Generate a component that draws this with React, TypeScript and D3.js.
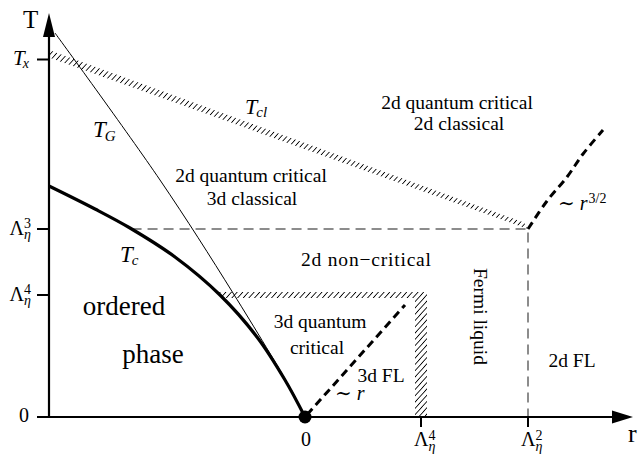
import * as d3 from 'd3';

// chart units (1 unit ~ 100 px)
const rMin = -2.56;
const rMax = 3.2;
const tMax = 4.02;

// axis ticks
const rTickValues = [0, 1.16, 2.23];
const rTickBase = ['0', 'Λ', 'Λ'];
const rTickSup = ['', '4', '2'];
const rTickSub = ['', 'η', 'η'];

const tTickValues = [0, 1.22, 1.88, 3.575];
const tTickBase = ['0', 'Λ', 'Λ', 'T'];
const tTickSup = ['', '4', '3', ''];
const tTickSub = ['', 'η', 'η', 'x'];

const lam4R = rTickValues[1];
const lam2R = rTickValues[2];
const lam4T = tTickValues[1];
const lam3T = tTickValues[2];
const tX = tTickValues[3];

// T_c : ordered phase boundary
const tcCurve: [number, number][] = [
  [-2.56, 2.31], [-2.1, 2.08], [-1.75, 1.89], [-1.3, 1.6], [-0.85, 1.22],
  [-0.48, 0.8], [-0.2, 0.37], [0, 0],
];
// T_G : Ginzburg line
const tgCurve: [number, number][] = [
  [-2.5, 3.84], [-1.45, 2.37], [-0.72, 1.24], [-0.12, 0.24], [0, 0],
];
// ~ r^{3/2}
const r32Curve: [number, number][] = [
  [2.23, 1.88], [2.42, 2.16], [2.62, 2.4], [2.78, 2.63], [2.98, 2.87],
];
// ~ r
const rLinear: [number, number][] = [[0, 0], [1.0, 1.12]];

const serif = "'Liberation Serif', 'DejaVu Serif', serif";

function rAt(curve: [number, number][], t: number) {
  for (let i = 0; i < curve.length - 1; i++) {
    const [r0, t0] = curve[i];
    const [r1, t1] = curve[i + 1];
    if (t0 >= t && t1 <= t) return r0 + ((t0 - t) / (t0 - t1)) * (r1 - r0);
  }
  return curve[0][0];
}

export default function App() {
  const x = d3.scaleLinear().domain([rMin, rMax]).range([49, 625]);
  const y = d3.scaleLinear().domain([0, tMax]).range([417, 15]);
  const straight = d3.line<[number, number]>().x(d => x(d[0])).y(d => y(d[1]));
  const smooth = d3.line<[number, number]>().x(d => x(d[0])).y(d => y(d[1])).curve(d3.curveCatmullRom);
  const poly = (pts: [number, number][]) => straight(pts) + 'Z';

  const x0 = x(0), y0 = y(0);

  // hatched Tcl band
  const bw = 0.075;
  const tclBand: [number, number][] = [
    [rMin, tX + 0.02], [lam2R, lam3T], [lam2R - 0.04, lam3T + bw - 0.01], [rMin, tX + 0.02 + bw],
  ];
  // hatched 3d quantum critical box
  const hb = 0.03, vb = 0.06;
  const boxBand: [number, number][] = [
    [rAt(tcCurve, lam4T + hb), lam4T + hb], [lam4R + vb, lam4T + hb], [lam4R + vb, 0],
    [lam4R - vb, 0], [lam4R - vb, lam4T - hb], [rAt(tcCurve, lam4T - hb), lam4T - hb],
  ];

  const dashStart = rAt(tcCurve, lam3T);

  return (
    <div style={{ position: 'absolute', left: 0, top: 0 }}>
      <svg width={644} height={454} style={{ display: 'block', background: '#fff' }} fontFamily={serif}>
        <defs>
          <pattern id="hatch" patternUnits="userSpaceOnUse" width={4.2} height={4.2} patternTransform="rotate(42)">
            <line x1={2.1} y1={-1} x2={2.1} y2={5.2} stroke="#000" strokeWidth={0.85} />
          </pattern>
        </defs>

        {/* hatched bands */}
        <path d={poly(tclBand)} fill="url(#hatch)" />
        <path d={poly(boxBand)} fill="url(#hatch)" />

        {/* gray dashed crossover lines */}
        <path d={straight([[dashStart, lam3T], [lam2R, lam3T], [lam2R, 0]])!} fill="none"
          stroke="#8c8c8c" strokeWidth={2} strokeDasharray="10 6" />

        {/* curves */}
        <path d={smooth(tgCurve)!} fill="none" stroke="#000" strokeWidth={1} />
        <path d={smooth(tcCurve)!} fill="none" stroke="#000" strokeWidth={3.2} />
        <path d={straight(rLinear)!} fill="none" stroke="#000" strokeWidth={3} strokeDasharray="8 5" strokeDashoffset={-3} />
        <path d={smooth(r32Curve)!} fill="none" stroke="#000" strokeWidth={3} strokeDasharray="8 5" />

        {/* axes */}
        <line x1={x(rMin)} y1={y0} x2={x(rMin)} y2={34} stroke="#000" strokeWidth={2.2} />
        <path d={`M${x(rMin)},13 L${x(rMin) - 6},37 L${x(rMin) + 6},37 Z`} fill="#000" />
        <line x1={38} y1={y0} x2={615} y2={y0} stroke="#000" strokeWidth={2.2} />
        <path d={`M633,${y0} L612,${y0 - 6.5} L612,${y0 + 6.5} Z`} fill="#000" />
        <text x={23} y={28} fontSize={25}>T</text>
        <text x={628} y={442} fontSize={26}>r</text>

        {/* T ticks */}
        {tTickValues.map((v, i) => {
          const ty = y(v);
          const isL = tTickBase[i] === 'Λ';
          const isT = tTickBase[i] === 'T';
          const x1 = isL ? 9.5 : isT ? 13 : 19;
          return (
            <g key={'t' + i}>
              <line x1={37} x2={x(rMin)} y1={ty} y2={ty} stroke="#000" strokeWidth={2} />
              <text x={x1} y={ty + (isL ? 5.5 : isT ? 5.5 : 4.5)} fontSize={isT ? 21 : 20}>
                <tspan fontStyle={isT ? 'italic' : 'normal'}>{tTickBase[i]}</tspan>
                {tTickSup[i] && <tspan fontSize={14} dy={-6.5}>{tTickSup[i]}</tspan>}
                {tTickSub[i] && (
                  <tspan fontSize={14} fontStyle="italic" dx={tTickSup[i] ? -7 : -2} dy={tTickSup[i] ? 11 : 3}>
                    {tTickSub[i]}
                  </tspan>
                )}
              </text>
            </g>
          );
        })}

        {/* r ticks */}
        {rTickValues.map((v, i) => {
          const tx = x(v);
          const isL = rTickBase[i] === 'Λ';
          return (
            <g key={'r' + i}>
              {v !== 0 && <line x1={tx} x2={tx} y1={y0} y2={y0 + 10} stroke="#000" strokeWidth={2} />}
              {isL ? (
                <text x={tx - 7} y={446} fontSize={20}>
                  {rTickBase[i]}
                  <tspan fontSize={14} dy={-6.5}>{rTickSup[i]}</tspan>
                  <tspan fontSize={14} fontStyle="italic" dx={-7} dy={11}>{rTickSub[i]}</tspan>
                </text>
              ) : (
                <text x={tx + 1} y={446} fontSize={20} textAnchor="middle">{rTickBase[i]}</text>
              )}
            </g>
          );
        })}

        {/* quantum critical point */}
        <circle cx={x0} cy={y0} r={6.5} fill="#000" />

        {/* region labels */}
        <g fontSize={19.5} textAnchor="middle">
          <text x={457} y={109}>2d quantum critical</text>
          <text x={459} y={130}>2d classical</text>
          <text x={251} y={182}>2d quantum critical</text>
          <text x={252} y={205}>3d classical</text>
          <text x={366} y={266} textLength={130} lengthAdjust="spacing">2d non−critical</text>
          <text x={320} y={328}>3d quantum</text>
          <text x={317} y={354}>critical</text>
          <text x={381} y={382}>3d FL</text>
          <text x={572} y={367}>2d FL</text>
          <text transform="translate(474,268) rotate(90)" textAnchor="start">Fermi liquid</text>
        </g>
        <g fontSize={27} textAnchor="middle">
          <text x={124} y={315}>ordered</text>
          <text x={153} y={363}>phase</text>
        </g>

        {/* curve labels */}
        <g fontStyle="italic">
          <text x={93} y={137} fontSize={23}>T<tspan fontSize={15} dx={-1} dy={4}>G</tspan></text>
          <text x={245} y={114} fontSize={22}>T<tspan fontSize={15} dx={-1} dy={3}>cl</tspan></text>
          <text x={120} y={262} fontSize={23}>T<tspan fontSize={15} dx={-1} dy={3}>c</tspan></text>
        </g>
        <g fontSize={20}>
          <text x={335} y={400}>∼ <tspan fontStyle="italic">r</tspan></text>
          <text x={558} y={210}>∼ <tspan fontStyle="italic">r</tspan><tspan fontSize={14} dx={1} dy={-7}>3/2</tspan></text>
        </g>
      </svg>
    </div>
  );
}
